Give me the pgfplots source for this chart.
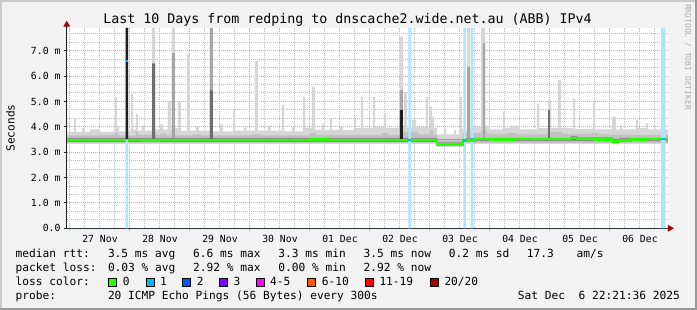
\documentclass[border=0pt]{standalone}
\usepackage{fontspec}
\setmainfont{DejaVu Sans Mono}
\newfontfamily\mono{DejaVu Sans Mono}
\usepackage{pgfplots}
\pgfplotsset{compat=1.18}
\usetikzlibrary{arrows.meta}
\definecolor{bgc}{HTML}{F2F2F2}
\definecolor{shadeA}{HTML}{CBCBCB}
\definecolor{shadeB}{HTML}{999999}
\definecolor{gridc}{HTML}{BEBEBE}
\definecolor{mgridc}{HTML}{F39A9A}
\definecolor{arrowc}{HTML}{A00000}
\definecolor{axisc}{HTML}{202020}
\definecolor{lossbar}{HTML}{ABE6FA}
\definecolor{smokeL}{HTML}{D6D6D6}
\definecolor{smokeM}{HTML}{C2C2C2}
\definecolor{smokeG}{HTML}{A6A6A6}
\definecolor{smokeD}{HTML}{8E8E8E}
\definecolor{smokeK}{HTML}{6E6E6E}
\definecolor{smokeX}{HTML}{1E1E1E}
\definecolor{loss0}{HTML}{26FF00}
\definecolor{loss1}{HTML}{00B8FF}
\definecolor{loss2}{HTML}{0059FF}
\definecolor{loss3}{HTML}{7E00FF}
\definecolor{loss4}{HTML}{FF00FF}
\definecolor{loss6}{HTML}{FF5500}
\definecolor{loss11}{HTML}{FF0000}
\definecolor{loss20}{HTML}{A10000}
\newcommand\tickfont{\mono\fontsize{9.8}{11}\selectfont}
\newcommand\legfont{\mono\fontsize{11.2}{13}\selectfont}
\newcommand\titlefont{\mono\fontsize{13.3}{15}\selectfont}
\newcommand\wmfont{\mono\fontsize{8}{9}\selectfont}
\begin{document}
\begin{tikzpicture}
\useasboundingbox (0pt,0pt) rectangle (697pt,310pt);
\fill[bgc] (0pt,0pt) rectangle (697pt,310pt);
\fill[shadeA] (0pt,308pt) rectangle (697pt,310pt);
\fill[shadeA] (0pt,0pt) rectangle (2pt,310pt);
\fill[shadeB] (0pt,0pt) rectangle (697pt,2pt);
\fill[shadeB] (694.5pt,0pt) rectangle (697pt,310pt);
\begin{axis}[
  at={(66.7pt,81.7pt)}, anchor=south west,
  scale only axis, width=601.3pt, height=200.3pt,
  xmin=-0.055, xmax=9.967, ymin=0, ymax=7.895,
  axis x line=bottom, axis y line=left,
  x axis line style={draw=axisc, line width=1pt, -{Triangle[length=6pt,width=6.5pt,color=arrowc]}, shorten >=-6pt},
  y axis line style={draw=axisc, line width=1pt, -{Triangle[length=6pt,width=6.5pt,color=arrowc]}, shorten >=-7.3pt},
  axis background/.style={fill=white},
  grid=both,
  major grid style={draw=mgridc, line width=1pt, dash pattern=on 1pt off 1pt},
  minor grid style={draw=gridc, line width=1pt, dash pattern=on 1pt off 1pt},
  xtick={0,1,2,3,4,5,6,7,8,9},
  xticklabels={27 Nov,28 Nov,29 Nov,30 Nov,01 Dec,02 Dec,03 Dec,04 Dec,05 Dec,06 Dec},
  minor xtick={0.25,0.5,...,9.75},
  ytick={0,1,2,3,4,5,6,7},
  yticklabels={0.0,1.0 m,2.0 m,3.0 m,4.0 m,5.0 m,6.0 m,7.0 m},
  minor ytick={0.3333,0.6667,1.3333,1.6667,2.3333,2.6667,3.3333,3.6667,4.3333,4.6667,5.3333,5.6667,6.3333,6.6667,7.3333,7.6667},
  tick align=outside, major tick length=3pt, minor tick length=0pt,
  x tick style={draw=mgridc, line width=1pt},
  y tick style={draw=axisc, line width=1pt},
  ticklabel style={font=\tickfont},
  xticklabel style={anchor=north, inner sep=0pt, xshift=30pt, yshift=-4pt},
  yticklabel style={anchor=east, inner sep=0pt, xshift=-3pt},
]
% light smoke
\addplot[const plot, fill=smokeL, draw=none] coordinates {
(-0.045,3.80) (0.067,4.34) (0.100,3.80) (0.200,3.95) (0.250,3.80) (0.333,3.90)
(0.500,3.80) (0.750,5.18) (0.783,4.00) (0.817,3.82) (0.928,7.90) (0.967,3.85)
(1.017,5.30) (1.050,3.90) (1.100,4.50) (1.133,3.85) (1.200,4.05) (1.250,3.85)
(1.367,7.90) (1.417,3.90) (1.500,4.10) (1.550,3.90) (1.633,5.00) (1.683,3.90)
(1.700,7.90) (1.750,3.95) (1.800,5.00) (1.850,3.85) (1.950,6.86) (2.000,3.85)
(2.100,4.00) (2.150,3.85) (2.333,7.90) (2.383,3.82) (2.500,4.10) (2.550,3.82)
(2.717,4.66) (2.750,3.85) (2.900,3.98) (2.950,3.85) (3.083,6.60) (3.133,3.85)
(3.300,4.05) (3.350,3.85) (3.533,4.85) (3.567,3.82) (3.700,4.00) (3.750,3.82)
(3.883,5.18) (3.917,3.95) (4.033,5.57) (4.083,3.88) (4.200,4.10) (4.250,3.88)
(4.333,4.30) (4.367,3.88) (4.500,4.00) (4.550,3.88) (4.733,4.30) (4.767,3.95)
(4.850,5.18) (4.883,3.95) (5.050,5.18) (5.083,4.00) (5.233,4.55) (5.267,3.95)
(5.500,7.54) (5.550,4.00) (5.567,5.38) (5.617,3.95) (5.700,4.27) (5.767,4.00)
(5.933,5.19) (5.967,4.00) (6.000,4.80) (6.033,4.40) (6.067,3.95) (6.117,3.70)
(6.233,3.94) (6.267,3.70) (6.400,3.87) (6.433,3.70) (6.500,5.18) (6.533,3.90)
(6.617,7.90) (6.667,4.00) (6.850,7.90) (6.917,4.05) (7.000,3.90) (7.217,4.60)
(7.250,3.95) (7.333,4.05) (7.500,3.90) (7.783,4.90) (7.817,3.95) (7.967,5.06)
(8.017,3.95) (8.133,5.84) (8.183,3.95) (8.383,5.10) (8.417,3.92) (8.717,4.95)
(8.750,3.90) (9.033,4.40) (9.100,3.90) (9.167,4.07) (9.200,3.90) (9.433,4.27)
(9.467,3.95) (9.600,4.14) (9.633,3.90) (9.733,3.94) (9.767,3.90) (9.967,3.90)
(9.967,3.34) (6.550,3.22) (6.117,3.34) (-0.045,3.34)} -- cycle;
% medium smoke
\addplot[const plot, fill=smokeM, draw=none] coordinates {
(-0.045,3.66) (0.500,3.68) (0.750,3.75) (0.800,3.66) (1.100,3.78) (1.133,3.68)
(1.500,3.72) (1.600,3.66) (2.050,3.70) (2.200,3.66) (3.000,3.70) (3.200,3.66)
(4.000,3.75) (4.100,3.68) (5.200,3.75) (5.300,3.68) (5.550,3.80) (5.800,3.70)
(6.000,3.85) (6.067,3.70) (6.117,3.52) (6.550,3.75) (6.850,3.85) (6.950,3.72)
(7.300,3.75) (7.450,3.70) (7.950,3.80) (8.200,3.72) (8.700,3.75) (8.800,3.70)
(9.000,3.68) (9.967,3.68)
(9.967,3.37) (6.550,3.25) (6.117,3.37) (-0.045,3.37)} -- cycle;
% grey columns
\addplot[const plot, fill=smokeG, draw=none] coordinates {
(-0.045,3.5) (1.700,6.9) (1.750,3.5) (2.333,7.9) (2.383,3.5) (5.500,5.45) (5.550,3.5)
(6.617,6.37) (6.667,3.5) (6.883,7.3) (6.917,3.5) (9.967,3.5)} -- cycle;
% dark band round the median
\addplot[const plot, fill=smokeD, draw=none] coordinates {
(-0.045,3.56) (6.117,3.39) (6.550,3.56) (8.350,3.63) (8.450,3.58) (9.050,3.50)
(9.150,3.56) (9.967,3.58)
(9.967,3.44) (9.150,3.36) (9.050,3.44) (6.550,3.24) (6.117,3.41) (-0.045,3.41)} -- cycle;
% dark columns
\addplot[const plot, fill=smokeK, draw=none] coordinates {
(-0.045,3.5) (1.367,6.5) (1.417,3.5) (2.333,5.44) (2.383,3.5) (7.967,4.66) (8.000,3.5) (9.967,3.5)} -- cycle;
\addplot[const plot, fill=smokeX, draw=none] coordinates {
(-0.045,3.5) (0.928,7.9) (0.967,3.5) (5.500,4.66) (5.550,3.5) (9.967,3.5)} -- cycle;
% loss bars
\addplot[const plot, fill=lossbar, draw=none] coordinates {
(-0.045,0) (0.928,3.5) (0.967,0) (5.638,7.9) (5.683,0) (6.555,7.9) (6.600,0)
(6.678,7.9) (6.722,0) (9.850,7.9) (9.928,0) (9.967,0)} -- cycle;
% median rtt
\addplot[const plot, draw=loss0, line width=2.4pt] coordinates {
(-0.045,3.48) (0.300,3.47) (0.500,3.49) (0.750,3.47) (0.928,3.47)};
\addplot[const plot, draw=loss0, line width=2.4pt] coordinates {
(0.967,3.48) (1.200,3.46) (1.500,3.48) (1.900,3.47) (2.200,3.48) (2.500,3.49)
(2.900,3.47) (3.200,3.49) (3.600,3.48) (4.000,3.50) (4.300,3.47) (4.700,3.48)
(5.100,3.49) (5.500,3.48) (6.117,3.31) (6.550,3.46) (6.750,3.52) (7.000,3.50)
(7.400,3.52) (7.800,3.51) (8.100,3.52) (8.350,3.57) (8.450,3.51) (8.750,3.50)
(9.050,3.42) (9.150,3.46) (9.350,3.50) (9.600,3.52) (9.967,3.52)};
\addplot[draw=loss1, line width=2.4pt] coordinates {(0.928,6.6) (0.967,6.6)};
\addplot[draw=loss1, line width=2.4pt] coordinates {(5.638,3.48) (5.683,3.48)};
\addplot[draw=loss1, line width=2.4pt] coordinates {(6.555,3.46) (6.600,3.46)};
\addplot[draw=loss1, line width=2.4pt] coordinates {(6.678,3.52) (6.722,3.52)};
\addplot[draw=loss1, line width=2.4pt] coordinates {(9.850,3.52) (9.928,3.52)};
\end{axis}
% texts
\node[anchor=base, font=\titlefont, inner sep=0pt] at (347.5pt,286pt) {Last 10 Days from redping to dnscache2.wide.net.au (ABB) IPv4};
\node[rotate=90, font=\legfont, inner sep=0pt] at (10.5pt,182pt) {Seconds};
\node[rotate=-90, font=\wmfont, text=black!32, inner sep=0pt] at (688pt,253pt) {RRDTOOL / TOBI OETIKER};
\begin{scope}[every node/.style={anchor=base west, font=\legfont, inner sep=0pt}]
\node at (15.5pt,52.3pt) {median rtt:};
\node at (107.8pt,52.3pt) {3.5 ms avg};
\node at (193pt,52.3pt) {6.6 ms max};
\node at (278.2pt,52.3pt) {3.3 ms min};
\node at (363.4pt,52.3pt) {3.5 ms now};
\node at (448.6pt,52.3pt) {0.2 ms sd};
\node at (526.7pt,52.3pt) {17.3};
\node at (576.4pt,52.3pt) {am/s};
\node at (15.5pt,38.3pt) {packet loss:};
\node at (107.8pt,38.3pt) {0.03 \% avg};
\node at (193pt,38.3pt) {2.92 \% max};
\node at (278.2pt,38.3pt) {0.00 \% min};
\node at (363.4pt,38.3pt) {2.92 \% now};
\node at (15.5pt,24.3pt) {loss color:};
\node at (122.6pt,24.3pt) {0};
\node at (160pt,24.3pt) {1};
\node at (196.6pt,24.3pt) {2};
\node at (233.3pt,24.3pt) {3};
\node at (270pt,24.3pt) {4-5};
\node at (321.6pt,24.3pt) {6-10};
\node at (379.3pt,24.3pt) {11-19};
\node at (444.3pt,24.3pt) {20/20};
\node at (15.5pt,10.5pt) {probe:};
\node at (107.8pt,10.5pt) {20 ICMP Echo Pings (56 Bytes) every 300s};
\node[anchor=base east] at (680pt,10.5pt) {Sat Dec~ 6 22:21:36 2025};
\end{scope}
\begin{scope}[line width=1pt, draw=black]
\filldraw[fill=loss0] (108.8pt,23.8pt) rectangle (116.8pt,31.8pt);
\filldraw[fill=loss1] (146.2pt,23.8pt) rectangle (154.2pt,31.8pt);
\filldraw[fill=loss2] (182.8pt,23.8pt) rectangle (190.8pt,31.8pt);
\filldraw[fill=loss3] (219.5pt,23.8pt) rectangle (227.5pt,31.8pt);
\filldraw[fill=loss4] (256.2pt,23.8pt) rectangle (264.2pt,31.8pt);
\filldraw[fill=loss6] (307.8pt,23.8pt) rectangle (315.8pt,31.8pt);
\filldraw[fill=loss11] (365.5pt,23.8pt) rectangle (373.5pt,31.8pt);
\filldraw[fill=loss20] (430.5pt,23.8pt) rectangle (438.5pt,31.8pt);
\end{scope}
\end{tikzpicture}
\end{document}
